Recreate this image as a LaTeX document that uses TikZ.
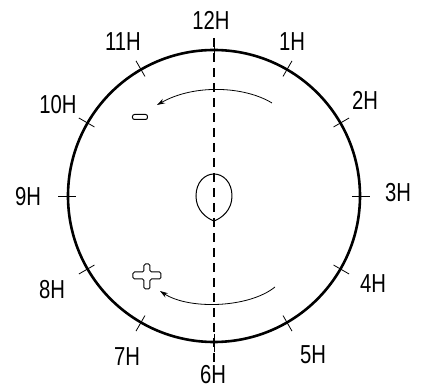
\documentclass[tikz,border=0pt]{standalone}
\usepackage{fontspec}
\setmainfont[FakeStretch=0.78]{Liberation Sans}
\usetikzlibrary{arrows.meta}

\begin{document}
\begin{tikzpicture}[
		x=1pt, y=1pt,
		hour label/.style={
			font=\fontsize{26}{26}\selectfont,
			inner sep=0pt
		},
		tick/.style={line width=0.8pt},
		turn arrow/.style={
			line width=0.8pt,
			-{Stealth[length=8pt,width=5pt]}
		},
		>=latex
		]
		
		\useasboundingbox (-214,-194) rectangle (207,196);
		
		\coordinate (centre) at (0,0);
		\coordinate (axistop) at (0,158);
		\coordinate (axisbottom) at (0,-167);
		
		% dial
		\draw[line width=2.6pt] (centre) circle (146);
		\draw[line width=1.3pt, dash pattern=on 9pt off 6pt] (axistop) -- (axisbottom);
		
		% hour marks
		\draw[tick] (60:138) -- (60:156);
		\draw[tick] (30:138) -- (30:156);
		\draw[tick] (0:138) -- (0:156);
		\draw[tick] (-30:138) -- (-30:156);
		\draw[tick] (-60:138) -- (-60:156);
		\draw[tick] (-90:138) -- (-90:156);
		\draw[tick] (-120:138) -- (-120:156);
		\draw[tick] (-150:138) -- (-150:156);
		\draw[tick] (180:138) -- (180:156);
		\draw[tick] (150:138) -- (150:156);
		\draw[tick] (120:138) -- (120:156);
		\draw[tick] (90:138) -- (90:156);
		
		\node[hour label] (h1) at (78,154) {1H};
		\node[hour label] (h2) at (151,96) {2H};
		\node[hour label] (h3) at (184,3) {3H};
		\node[hour label] (h4) at (159,-88) {4H};
		\node[hour label] (h5) at (99,-159) {5H};
		\node[hour label] (h6) at (-1,-179) {6H};
		\node[hour label] (h7) at (-87,-161) {7H};
		\node[hour label] (h8) at (-162,-94) {8H};
		\node[hour label] (h9) at (-186,-1) {9H};
		\node[hour label] (h10) at (-156,91) {10H};
		\node[hour label] (h11) at (-91,154) {11H};
		\node[hour label] (h12) at (-3,176) {12H};
		
		% egg in the middle
		\draw[line width=1pt] (0,-25) .. controls (-8,-22) and (-18,-14) .. (-18,0)
			.. controls (-18,14) and (-9,22) .. (0,22)
			.. controls (9,22) and (18,14) .. (18,0)
			.. controls (18,-14) and (8,-22) .. (0,-25);
		
		% turning arrows
		\coordinate (topright) at (58,93);
		\coordinate (topleft) at (-57,91);
		\coordinate (bottomright) at (61,-91);
		\coordinate (bottomleft) at (-54,-95);
		\draw[turn arrow] (topright) .. controls (30,110) and (-20,112) .. (topleft);
		\draw[turn arrow] (bottomright) .. controls (35,-112) and (-25,-114) .. (bottomleft);
		
		% signs
		\node[draw, line width=1pt, rounded corners=2pt, minimum width=15pt,
			minimum height=5pt, inner sep=0pt] (minus) at (-74,79) {};
		\draw[line width=1pt, rounded corners=1.5pt] (-70,-68) -- (-64,-68) -- (-64,-76)
			-- (-53,-76) -- (-53,-83) -- (-64,-83) -- (-64,-93) -- (-70,-93)
			-- (-70,-83) -- (-81,-83) -- (-81,-76) -- (-70,-76) -- cycle;
		
\end{tikzpicture}
\end{document}
